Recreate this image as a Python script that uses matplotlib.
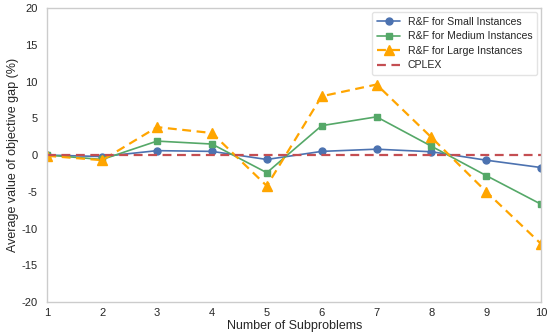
import matplotlib
matplotlib.use("Agg")
import matplotlib.pyplot as plt
import seaborn as sns

subproblems = [1, 2, 3, 4, 5, 6, 7, 8, 9, 10]
small = [0.0, -0.2, 0.6, 0.5, -0.6, 0.5, 0.8, 0.45, -0.7, -1.7]
medium = [0.0, -0.6, 1.9, 1.5, -2.4, 4.0, 5.2, 1.2, -2.8, -6.7]
large = [-0.1, -0.7, 3.8, 3.0, -4.2, 8.0, 9.6, 2.4, -5.0, -12.1]
cplex = [0.0] * len(subproblems)


def main():
    sns.set_theme(style="white")
    plt.rcParams['font.family'] = ['Liberation Sans', 'DejaVu Sans']
    plt.rcParams['axes.unicode_minus'] = False

    fig = plt.figure(figsize=(5.5, 3.36), dpi=100)
    ax = fig.add_axes([0.086, 0.101, 0.898, 0.875])

    ax.plot(subproblems, small, color='#4c72b0', marker='o', markersize=5,
            linewidth=1.2, label='R&F for Small Instances')
    ax.plot(subproblems, medium, color='#55a868', marker='s', markersize=4.5,
            linewidth=1.2, label='R&F for Medium Instances')
    ax.plot(subproblems, large, color='orange', marker='^', markersize=7,
            linewidth=1.6, linestyle=(0, (4, 2.5)), label='R&F for Large Instances')
    ax.plot(subproblems, cplex, color='#c44e52', linewidth=1.6,
            linestyle=(0, (4, 2.5)), label='CPLEX')

    ax.set_xlim(1, 10)
    ax.set_ylim(-20, 20)
    ax.set_xticks(subproblems)
    ax.set_yticks(range(-20, 21, 5))
    ax.tick_params(labelsize=8, length=0)
    ax.tick_params(axis='y', pad=7)
    ax.tick_params(axis='x', pad=4)
    for s in ax.spines.values():
        s.set_color('#cccccc')
        s.set_linewidth(1)

    ax.set_xlabel('Number of Subproblems', fontsize=9, labelpad=2)
    ax.set_ylabel('Average value of objective gap (%)', fontsize=9, labelpad=2)

    ax.legend(loc='upper right', fontsize=7.6, borderaxespad=0.4,
              frameon=True, handlelength=2.2, handletextpad=0.7,
              borderpad=0.45, labelspacing=0.42, edgecolor='#dddddd')

    fig.savefig('out.png', dpi=100)


if __name__ == '__main__':
    main()
